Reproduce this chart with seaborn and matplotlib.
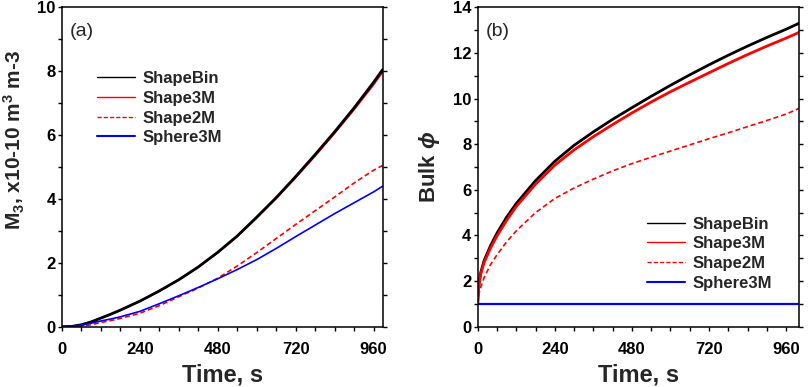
import numpy as np
import pandas as pd
import matplotlib
matplotlib.use("Agg")
import matplotlib.pyplot as plt
from matplotlib.lines import Line2D
from matplotlib.ticker import MultipleLocator
import seaborn as sns

# ---------------- data: panel (a) M3 ----------------
t_a = [0, 30, 60, 90, 120, 150, 180, 240, 300, 360, 420, 480, 540, 600, 660, 720, 780, 840, 900, 960, 988]
a_shapebin = [0, 0.01, 0.06, 0.15, 0.27, 0.39, 0.52, 0.80, 1.12, 1.47, 1.87, 2.33, 2.84, 3.43, 4.04, 4.70, 5.39, 6.10, 6.85, 7.65, 8.05]
a_shape3m  = [0, 0.01, 0.06, 0.15, 0.27, 0.39, 0.52, 0.80, 1.12, 1.47, 1.87, 2.32, 2.83, 3.41, 4.02, 4.67, 5.35, 6.06, 6.80, 7.58, 7.98]
a_shape2m  = [0, 0.00, 0.02, 0.06, 0.13, 0.19, 0.26, 0.42, 0.66, 0.94, 1.21, 1.52, 1.90, 2.32, 2.76, 3.20, 3.63, 4.06, 4.50, 4.90, 5.05]
a_sphere3m = [0, 0.01, 0.05, 0.11, 0.18, 0.24, 0.31, 0.48, 0.72, 0.97, 1.23, 1.50, 1.79, 2.10, 2.45, 2.82, 3.18, 3.54, 3.88, 4.22, 4.40]

# ---------------- data: panel (b) Bulk phi ----------------
t_b = [0, 2, 5, 10, 20, 40, 60, 90, 120, 180, 240, 300, 360, 420, 480, 540, 600, 660, 720, 780, 840, 900, 960, 1000]
b_shapebin = [1.0, 1.6, 2.0, 2.4, 2.9, 3.55, 4.1, 4.8, 5.4, 6.4, 7.25, 7.95, 8.54, 9.09, 9.6, 10.1, 10.58, 11.04, 11.48, 11.9, 12.3, 12.68, 13.04, 13.3]
b_shape3m  = [1.0, 1.55, 1.95, 2.33, 2.82, 3.45, 3.98, 4.66, 5.27, 6.25, 7.08, 7.75, 8.33, 8.86, 9.37, 9.85, 10.3, 10.72, 11.13, 11.54, 11.93, 12.3, 12.65, 12.9]
b_shape2m  = [1.0, 1.3, 1.5, 1.75, 2.15, 2.72, 3.15, 3.72, 4.2, 5.0, 5.62, 6.08, 6.47, 6.83, 7.15, 7.43, 7.70, 7.97, 8.24, 8.5, 8.77, 9.04, 9.32, 9.57]
b_sphere3m = [1.0] * len(t_b)

labels = ["ShapeBin", "Shape3M", "Shape2M", "Sphere3M"]
x_major = [0, 240, 480, 720, 960]

sns.set_style("ticks")
plt.rcParams["font.family"] = ["Liberation Sans", "DejaVu Sans"]
plt.rcParams["mathtext.fontset"] = "custom"
plt.rcParams["mathtext.rm"] = "Liberation Sans:bold"
plt.rcParams["mathtext.it"] = "Liberation Sans:italic:bold"
plt.rcParams["mathtext.bf"] = "Liberation Sans:bold"

fig = plt.figure(figsize=(8.11, 3.87), dpi=100)
ax_a = fig.add_axes([0.0764, 0.1558, 0.3962, 0.8253])
ax_b = fig.add_axes([0.589, 0.1558, 0.3962, 0.8253])

dash = (0, (3, 1.8))

# panel a
sns.lineplot(x=t_a, y=a_shape3m, ax=ax_a, color="#ff0000", linewidth=1.4)
sns.lineplot(x=t_a, y=a_shapebin, ax=ax_a, color="black", linewidth=2.0)
sns.lineplot(x=t_a, y=a_shape2m, ax=ax_a, color="#ff0000", linewidth=1.2, linestyle=dash)
sns.lineplot(x=t_a, y=a_sphere3m, ax=ax_a, color="#0000ff", linewidth=1.2)

# panel b
sns.lineplot(x=t_b, y=b_shapebin, ax=ax_b, color="black", linewidth=2.0)
sns.lineplot(x=t_b, y=b_shape3m, ax=ax_b, color="#ff0000", linewidth=2.0)
sns.lineplot(x=t_b, y=b_shape2m, ax=ax_b, color="#ff0000", linewidth=1.2, linestyle=dash)
sns.lineplot(x=t_b, y=b_sphere3m, ax=ax_b, color="#0000ff", linewidth=1.6)

def style(ax, xmax, ymax):
    ax.set_xlim(0, xmax)
    ax.set_ylim(0, ymax)
    ax.set_xticks(x_major)
    ax.xaxis.set_minor_locator(MultipleLocator(60))
    ax.yaxis.set_major_locator(MultipleLocator(2))
    ax.yaxis.set_minor_locator(MultipleLocator(1))
    ax.tick_params(which="both", direction="out", right=True, top=False,
                   length=3, width=1.0, labelsize=12, colors="black")
    ax.tick_params(axis="x", which="both", pad=8)
    ax.tick_params(axis="y", which="both", pad=1.5)
    for lab in ax.get_xticklabels() + ax.get_yticklabels():
        lab.set_fontweight("bold")
    for s in ax.spines.values():
        s.set_visible(True)
        s.set_linewidth(1.1)
        s.set_color("black")
    ax.set_xlabel("Time, s", fontsize=17, fontweight="bold", labelpad=5)

style(ax_a, 990, 10)
style(ax_b, 1000, 14)

ax_a.set_ylabel(r"M$_3$, x10-10 m$^3$ m-3", fontsize=15, fontweight="bold")
ax_a.yaxis.set_label_coords(-0.108, 0.585)
ax_b.set_ylabel(r"Bulk $\phi$", fontsize=16, fontweight="bold")
ax_b.yaxis.set_label_coords(-0.112, 0.5)

ax_a.text(0.025, 0.925, "(a)", transform=ax_a.transAxes, fontsize=14, va="center", ha="left")
ax_b.text(0.025, 0.925, "(b)", transform=ax_b.transAxes, fontsize=14, va="center", ha="left")

def handles():
    return [Line2D([], [], color="black", linewidth=1.0),
            Line2D([], [], color="#ff0000", linewidth=1.0),
            Line2D([], [], color="#ff0000", linewidth=1.0, linestyle=(0, (3, 1.5))),
            Line2D([], [], color="#0000ff", linewidth=1.5)]

leg_kw = dict(frameon=False, handlelength=2.3, handletextpad=0.45,
              labelspacing=0.28, borderpad=0, borderaxespad=0, loc="upper left",
              prop={"weight": "bold", "size": 12})
ax_a.legend(handles(), labels, bbox_to_anchor=(0.109, 0.800), **leg_kw)
ax_b.legend(handles(), labels, bbox_to_anchor=(0.527, 0.345), **leg_kw)

fig.savefig("out.png", dpi=100)
